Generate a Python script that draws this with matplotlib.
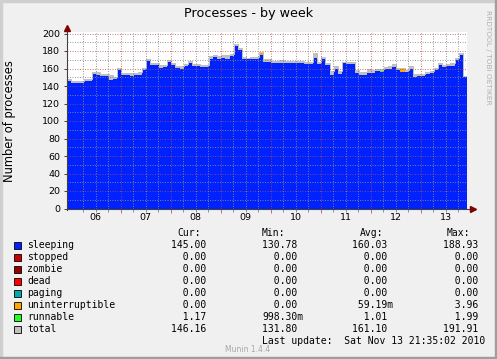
import numpy as np
import matplotlib
matplotlib.use('Agg')
import matplotlib.pyplot as plt
from matplotlib.patches import Rectangle

W, H = 497, 359

# hours relative to Nov 6 00:00, one bin = 2 hours
T0 = -1.7
STEP = 2.0
days = ['06', '07', '08', '09', '10', '11', '12', '13']

sleeping = [145.5, 143.6, 143.6, 143.6, 146, 146, 154, 152.4, 151, 151,
            146.8, 148, 158.5, 152.4, 152.4, 152, 152.5, 153, 158, 169,
            164, 164, 160.5, 162, 167.6, 164, 160.5, 159.4, 163, 166,
            163, 163, 162, 162, 171.4, 173.3, 171.4, 172.5, 171.4, 174,
            185.5, 181, 171.4, 170.4, 171, 171, 175, 167.6, 167.6, 166,
            166, 166, 166, 166.5, 166.5, 166.5, 166, 165, 165, 172,
            165, 171, 164, 152.4, 160, 154, 166, 165.5, 165, 154.5,
            152.4, 152.4, 155, 155, 157, 156, 160, 160, 162, 158,
            156, 156, 160, 150, 151, 152, 154, 155, 158, 163.5,
            162, 163, 163, 169.5, 175, 150]
uninterruptible = [0, 0, 0, 0, 0, 0, 0, 0, 0, 0,
                   0, 0, 0, 0, 0, 0, 0, 0, 0, 0,
                   0, 0, 0, 0, 0, 0, 0, 0, 0, 0,
                   0, 0, 0, 0, 0, 0, 0, 0, 0, 0,
                   0, 0, 0, 0, 0, 0, 2.5, 0, 0, 0,
                   0, 0, 0, 0, 0, 0, 0, 0, 0, 0,
                   0, 0, 0, 0, 0, 0, 0, 0, 0, 0,
                   0, 0, 0, 0, 0, 0, 0, 0, 0, 0,
                   3.0, 0, 0, 0, 0, 0, 0, 0, 0, 0,
                   0, 0, 0, 0, 0, 0]
runnable = [1.0, 1.0, 0.9, 1.0, 1.2, 1.1, 1.0, 1.3, 1.0, 0.9,
            1.0, 1.4, 1.0, 1.0, 0.9, 1.0, 1.0, 1.2, 1.0, 1.1,
            1.0, 1.0, 0.9, 1.0, 1.3, 1.0, 1.0, 1.0, 1.1, 1.0,
            1.0, 1.0, 1.2, 1.0, 1.0, 1.0, 1.1, 1.0, 1.0, 1.0,
            1.0, 1.0, 1.0, 1.5, 1.0, 1.0, 1.0, 1.0, 1.0, 1.0,
            1.0, 1.1, 1.0, 1.0, 1.0, 1.0, 1.0, 1.0, 1.0, 1.0,
            1.3, 1.0, 1.0, 1.0, 1.0, 1.0, 1.0, 1.0, 1.0, 1.0,
            1.0, 1.0, 1.0, 1.2, 1.0, 1.3, 1.4, 1.0, 1.0, 1.0,
            1.0, 1.0, 1.0, 1.0, 1.0, 1.0, 1.0, 1.0, 1.0, 1.0,
            1.0, 1.0, 1.0, 1.0, 1.0, 1.2]
total = [147.5, 145.5, 145.5, 146, 148.5, 148.5, 156.5, 155.5, 153.5, 153.5,
         153, 150, 161, 154.5, 154.5, 154.5, 155, 156.5, 161, 171,
         166.5, 166, 163.5, 164.5, 170, 166, 163, 162.5, 165.5, 169,
         165.5, 165.5, 164.5, 164.5, 174.5, 176, 174, 175, 175, 176.5,
         188.5, 183.5, 173.5, 172.5, 173, 173.5, 179, 170.5, 170.5, 168.5,
         168.5, 170, 168.5, 169, 169, 168.5, 168.5, 167.5, 167.5, 178,
         167.5, 173, 166.5, 157.5, 162.5, 157.5, 168, 167.5, 167.5, 158,
         155.5, 156, 159, 158.5, 159.5, 159.5, 162, 163, 165.5, 161,
         161, 158.5, 163, 153.5, 154, 154, 156.5, 157.5, 160.5, 166,
         164.5, 165.5, 166.5, 171.5, 177.5, 152]

# legend table
labels = ['sleeping', 'stopped', 'zombie', 'dead', 'paging',
          'uninterruptible', 'runnable', 'total']
colors = ['#0022ff', '#cc0000', '#990000', '#ff0000', '#00aaaa',
          '#ffa500', '#22ff22', '#c0c0c0']
cur = [145.00, 0, 0, 0, 0, 0, 1.17, 146.16]
vmin = [130.78, 0, 0, 0, 0, 0, 0.99830, 131.80]
vavg = [160.03, 0, 0, 0, 0, 0.05919, 1.01, 161.10]
vmax = [188.93, 0, 0, 0, 0, 3.96, 1.99, 191.91]


def fmt(v):
    if v != 0 and abs(v) < 1:
        return f"{v * 1000:6.2f}m"
    return f"{v:6.2f} "


def ext(a):
    a = np.asarray(a, dtype=float)
    return np.append(a, a[-1])


def fx(x):
    return x / W


def fy(y):
    return 1 - y / H


fig = plt.figure(figsize=(W / 100, H / 100), dpi=100)
fig.patch.set_facecolor('#f0f0f0')

# shaded frame
fig.patches.append(Rectangle((0, 0), 2 / W, 1, transform=fig.transFigure, color='#cfcfcf'))
fig.patches.append(Rectangle((0, 1 - 2 / H), 1, 2 / H, transform=fig.transFigure, color='#cfcfcf'))
fig.patches.append(Rectangle((1 - 2 / W, 0), 2 / W, 1, transform=fig.transFigure, color='#9e9e9e'))
fig.patches.append(Rectangle((0, 0), 1, 2 / H, transform=fig.transFigure, color='#9e9e9e'))

ax = fig.add_axes([fx(67), fy(208.5), 400 / W, 176.75 / H])
ax.set_facecolor('white')
for s in ax.spines.values():
    s.set_visible(False)

n = len(sleeping)
t = T0 + STEP * np.arange(n + 1)
s1 = ext(sleeping)
s2 = s1 + ext(uninterruptible)
s3 = s2 + ext(runnable)
tt = ext(total)

ax.fill_between(t, 0, s1, step='post', color=colors[0], lw=0, zorder=2)
ax.fill_between(t, s1, s2, step='post', color=colors[5], lw=0, zorder=2)
# total line sits on the stack top and mostly hides the runnable band
ax.fill_between(t, s2, np.maximum(tt, s3), step='post', color=colors[7], lw=0, zorder=2)
busy = ext(runnable) >= 1.2
ax.fill_between(t, s2, s3, where=busy, step='post', color=colors[6], lw=0, zorder=3)
ax.step(t, tt, where='post', color=colors[7], lw=0.72, zorder=3)

ax.set_xlim(T0, T0 + STEP * n)
ax.set_ylim(0, 202)

# grid on top of the data, rrdtool style
dots = (0, (1, 1.5))
for v in range(10, 201, 20):
    ax.axhline(v, color='#8c8c8c', alpha=0.85, lw=0.72, ls=dots, zorder=5)
for v in range(20, 201, 20):
    ax.axhline(v, color='#c04848', alpha=0.7, lw=0.72, ls=dots, zorder=5)
for d in range(len(days)):
    for h in (6, 12, 18):
        ax.axvline(24 * d + h, color='#8c8c8c', alpha=0.85, lw=0.72, ls=dots, zorder=5)
    ax.axvline(24 * d + 24, color='#c04848', alpha=0.7, lw=0.72, ls=dots, zorder=5)

ax.set_yticks(range(0, 201, 20))
ax.tick_params(axis='y', length=2, width=0.7, color='#404040', pad=3, labelsize=6.8)
ax.set_xticks([24 * d + 24 for d in range(len(days) - 1)])
ax.set_xticklabels([])
ax.set_xticks([24 * d + h for d in range(len(days)) for h in (6, 12, 18)], minor=True)
ax.tick_params(axis='x', which='major', length=3, width=0.7, color='#c07070')
ax.tick_params(axis='x', which='minor', length=2, width=0.7, color='#909090')
for d, lab in enumerate(days):
    ax.text(24 * d + 12, -5, lab, ha='center', va='top', fontsize=6.8,
            transform=ax.transData, clip_on=False)

# axes with arrows
ax.plot([0, 1.015], [0, 0], color='#404040', lw=0.8, transform=ax.transAxes, clip_on=False, zorder=6)
ax.plot([0, 0], [-0.01, 1.02], color='#404040', lw=0.8, transform=ax.transAxes, clip_on=False, zorder=6)
ax.plot([1.015], [0], marker='>', ms=4, color='#7f0000', transform=ax.transAxes, clip_on=False, zorder=7)
ax.plot([0], [1.02], marker='^', ms=4, color='#7f0000', transform=ax.transAxes, clip_on=False, zorder=7)

fig.text(fx(249), fy(13), 'Processes - by week', ha='center', va='center', fontsize=9.2)
fig.text(fx(10), fy(121), 'Number of processes', ha='center', va='center',
         rotation=90, fontsize=8.3)
fig.text(fx(488), fy(57), 'RRDTOOL / TOBI OETIKER', ha='center', va='center',
         rotation=270, fontsize=5.3, color='#b0b0b0')

mono = 'DejaVu Sans Mono'
fs = 7
for x, head in [(177, 'Cur:'), (262, 'Min:'), (360, 'Avg:'), (447, 'Max:')]:
    fig.text(fx(x), fy(233), head, ha='left', va='center', family=mono, fontsize=fs)

for i, lab in enumerate(labels):
    y = 245.5 + 11.95 * i
    fig.patches.append(Rectangle((fx(13.5), fy(y + 3.5)), 7 / W, 7 / H, transform=fig.transFigure,
                                 facecolor=colors[i], edgecolor='black', lw=0.6))
    fig.text(fx(27), fy(y), lab, ha='left', va='center', family=mono, fontsize=fs)
    fig.text(fx(171), fy(y), fmt(cur[i]), ha='left', va='center', family=mono, fontsize=fs)
    fig.text(fx(262), fy(y), fmt(vmin[i]), ha='left', va='center', family=mono, fontsize=fs)
    fig.text(fx(352), fy(y), fmt(vavg[i]), ha='left', va='center', family=mono, fontsize=fs)
    fig.text(fx(443), fy(y), fmt(vmax[i]), ha='left', va='center', family=mono, fontsize=fs)

fig.text(fx(262), fy(341), 'Last update:  Sat Nov 13 21:35:02 2010', ha='left', va='center',
         family=mono, fontsize=fs)
fig.text(fx(225), fy(349), 'Munin 1.4.4', ha='left', va='center', fontsize=5.5, color='#a8a8a8')

plt.savefig('out.png', dpi=100, facecolor=fig.get_facecolor())
